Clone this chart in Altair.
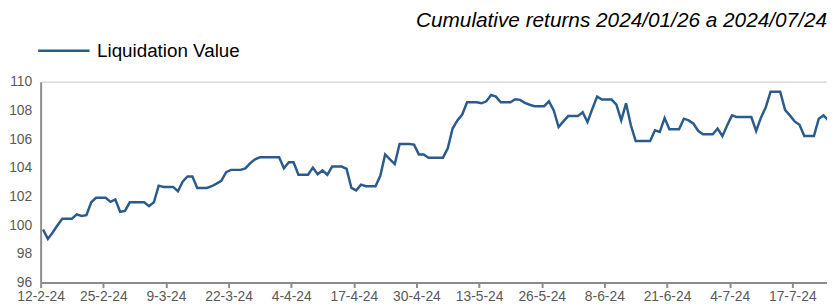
import altair as alt
import pandas as pd

series_name = "Liquidation Value"
start_date = "2024-02-12T12:00:00Z"
values = [
    99.70, 99.05, 99.50, 100.00, 100.46, 100.46, 100.46, 100.76, 100.65, 100.70,
    101.60, 101.91, 101.91, 101.91, 101.63, 101.80, 100.94, 101.00, 101.60, 101.60,
    101.60, 101.60, 101.33, 101.60, 102.76, 102.67, 102.67, 102.67, 102.37, 103.06,
    103.40, 103.40, 102.60, 102.60, 102.60, 102.72, 102.90, 103.10, 103.70, 103.86,
    103.86, 103.86, 103.97, 104.33, 104.60, 104.74, 104.74, 104.74, 104.74, 104.74,
    103.97, 104.39, 104.39, 103.52, 103.52, 103.52, 104.02, 103.56, 103.82, 103.52,
    104.09, 104.09, 104.09, 103.93, 102.60, 102.43, 102.83, 102.72, 102.72, 102.72,
    103.45, 104.94, 104.60, 104.26, 105.66, 105.66, 105.66, 105.62, 104.94, 104.94,
    104.71, 104.71, 104.71, 104.71, 105.36, 106.74, 107.31, 107.72, 108.57, 108.57,
    108.57, 108.50, 108.64, 109.08, 108.97, 108.57, 108.57, 108.57, 108.78, 108.74,
    108.53, 108.40, 108.30, 108.30, 108.30, 108.64, 108.00, 106.85, 107.24, 107.61,
    107.61, 107.61, 107.88, 107.19, 108.11, 108.97, 108.76, 108.76, 108.76, 108.41,
    107.31, 108.50, 106.97, 105.88, 105.88, 105.88, 105.88, 106.62, 106.50, 107.47,
    106.69, 106.69, 106.69, 107.43, 107.31, 107.08, 106.57, 106.34, 106.34, 106.34,
    106.74, 106.21, 106.97, 107.66, 107.54, 107.54, 107.54, 107.54, 106.57, 107.50,
    108.23, 109.31, 109.31, 109.31, 108.05, 107.66, 107.24, 107.01, 106.23, 106.23,
    106.23, 107.43, 107.66, 107.31,
]
tick_dates = [(2024, 2, 12), (2024, 2, 25), (2024, 3, 9), (2024, 3, 22), (2024, 4, 4),
              (2024, 4, 17), (2024, 4, 30), (2024, 5, 13), (2024, 5, 26), (2024, 6, 8),
              (2024, 6, 21), (2024, 7, 4), (2024, 7, 17)]
y_ticks = [96, 98, 100, 102, 104, 106, 108, 110]
title_text = "Cumulative returns 2024/01/26 a 2024/07/24"

dates = pd.date_range(start_date, periods=len(values), freq="D")
df = pd.DataFrame({
    "date": [d.strftime("%Y-%m-%dT%H:%M:%SZ") for d in dates],
    "value": values,
    "series": series_name,
})

FONT = "Liberation Sans"
LINE_COLOR = "#2B5B8C"
AXIS_COLOR = "#8C8C8C"
LABEL_COLOR = "#595959"

x_scale = alt.Scale(
    type="utc",
    domain=[alt.DateTime(year=2024, month=2, date=12, utc=True),
            alt.DateTime(year=2024, month=7, date=24, hours=5, utc=True)],
)
y_scale = alt.Scale(domain=[96, 110], nice=False, zero=False)

chart = alt.Chart(df).mark_line(strokeWidth=2.5, clip=True).encode(
    x=alt.X("date:T", scale=x_scale, title=None,
            axis=alt.Axis(values=[alt.DateTime(year=y, month=m, date=d, utc=True) for y, m, d in tick_dates],
                          format="%-d-%-m-%y", grid=False, domain=True, domainColor=AXIS_COLOR,
                          domainWidth=2, ticks=True, tickColor=AXIS_COLOR, tickWidth=2, tickSize=5,
                          labelFontSize=14, labelColor=LABEL_COLOR, labelPadding=2, labelFlush=False,
                          labelOverlap=False, labelFont=FONT)),
    y=alt.Y("value:Q", scale=y_scale, title=None,
            axis=alt.Axis(values=y_ticks, grid=True,
                          gridColor=alt.condition("datum.value == 110", alt.value("#D9D9D9"),
                                                  alt.value("transparent")),
                          gridWidth=1.5, domain=True, domainColor=AXIS_COLOR,
                          domainWidth=2, ticks=False, labelFontSize=14, labelColor=LABEL_COLOR,
                          labelPadding=9, labelOverlap=False, labelFont=FONT)),
    color=alt.Color("series:N", scale=alt.Scale(range=[LINE_COLOR]),
                    legend=alt.Legend(title=None, orient="none", legendX=-4, legendY=-59,
                                      symbolType="stroke", symbolSize=2704, symbolStrokeWidth=2.5,
                                      labelFontSize=19, labelColor="#000000", labelFont=FONT,
                                      labelOffset=6, padding=0)),
).properties(
    width=795,
    height=203,
    padding={"left": 0, "right": 0, "top": 1, "bottom": 0},
    title=alt.TitleParams(title_text, anchor="end", fontSize=21, fontStyle="italic",
                          fontWeight="normal", font=FONT, color="#000000", offset=-8),
).configure_view(stroke=None).configure_axis(labelOverlap=False)

chart.save("out.html", embed_options={"renderer": "svg", "actions": False})
